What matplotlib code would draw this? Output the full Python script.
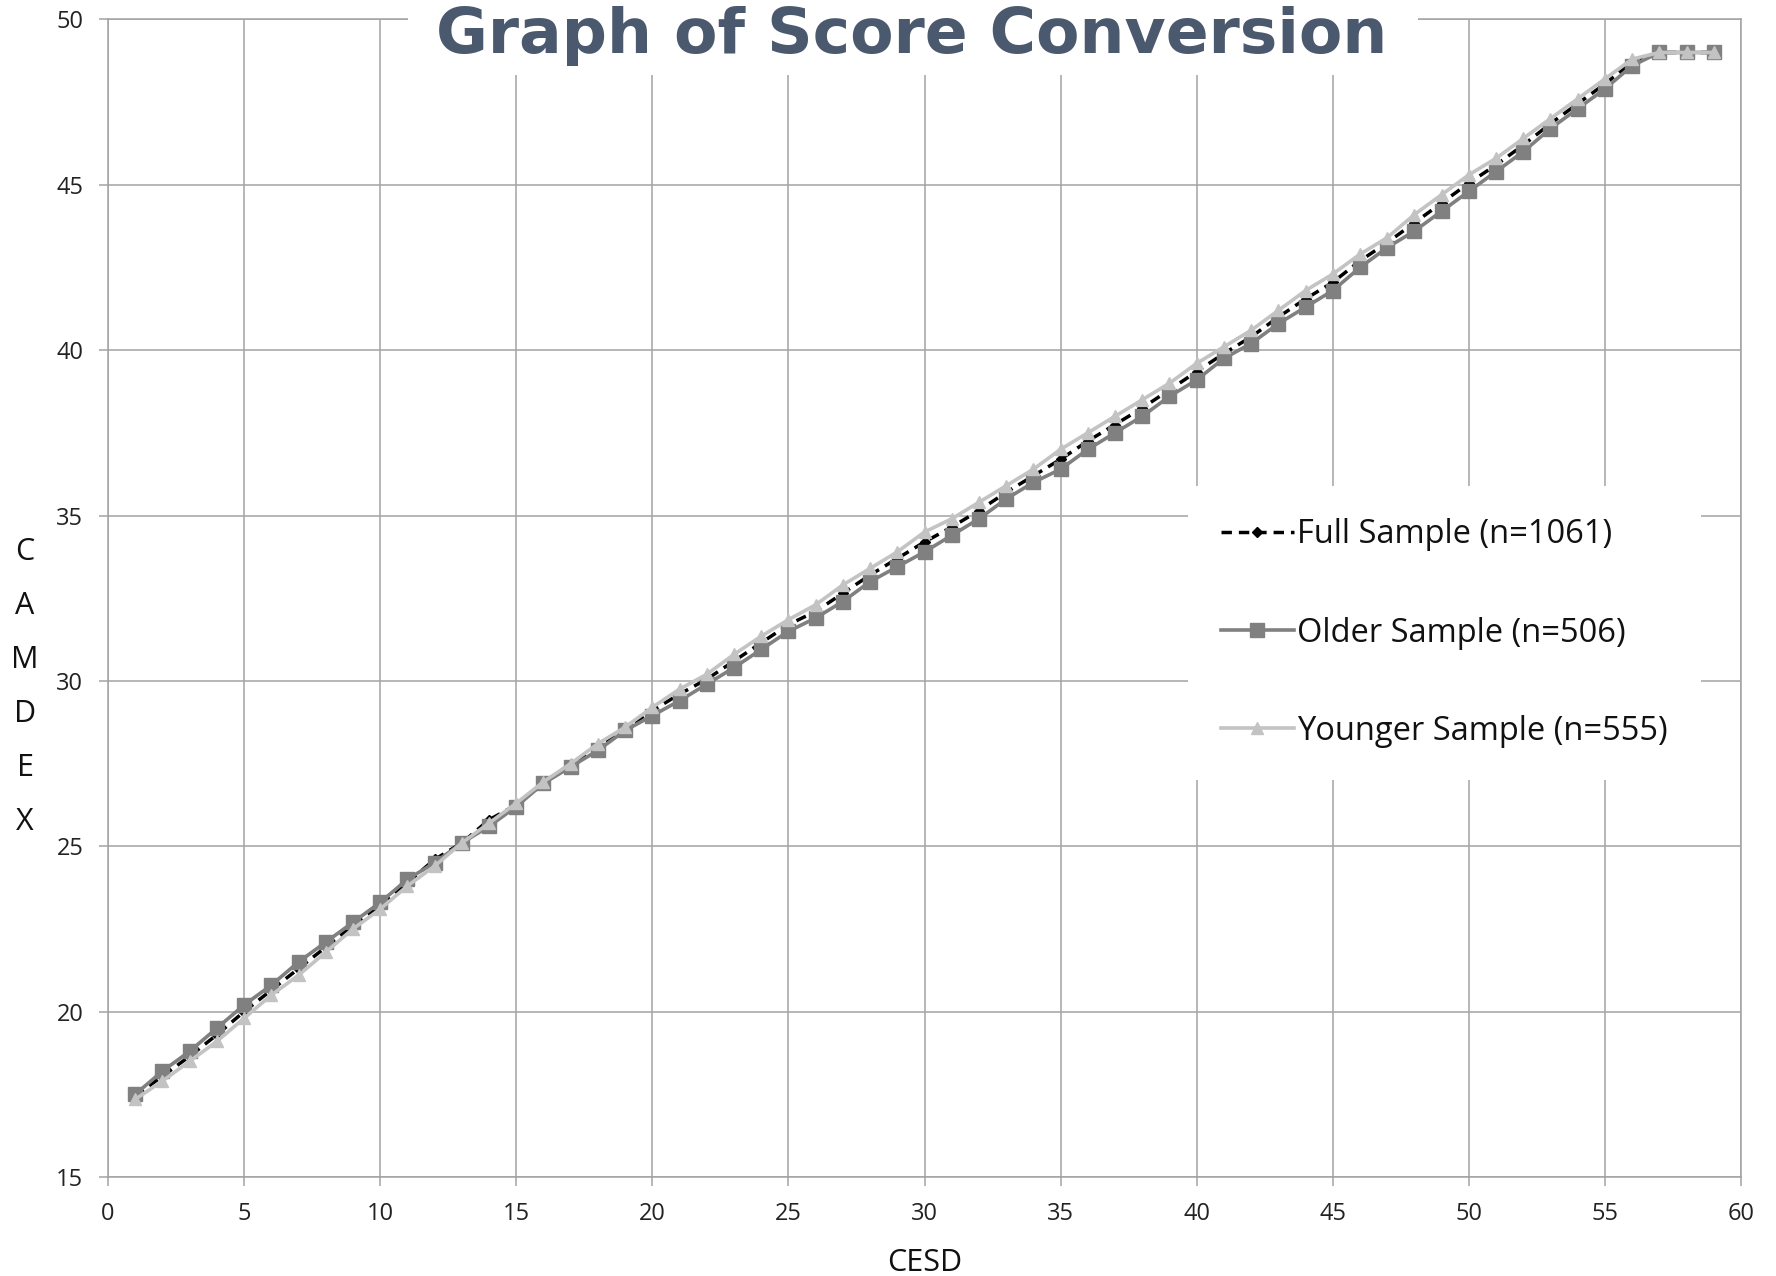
import matplotlib
matplotlib.use("Agg")
import matplotlib.pyplot as plt
from matplotlib.patches import Rectangle

# CESD score 1..59 and the CAMDEX values
cesd = list(range(1, 60))

full_sample = [17.45, 18.05, 18.65, 19.3, 20.0, 20.65, 21.3, 21.95, 22.6, 23.2,
               23.9, 24.6, 25.1, 25.8, 26.25, 26.9, 27.5, 28.0, 28.55, 29.1,
               29.6, 30.05, 30.6, 31.15, 31.7, 32.1, 32.65, 33.2, 33.7, 34.2,
               34.65, 35.15, 35.7, 36.2, 36.7, 37.25, 37.75, 38.25, 38.8, 39.35,
               39.9, 40.4, 41.0, 41.55, 42.05, 42.7, 43.25, 43.85, 44.45, 45.05,
               45.6, 46.2, 46.85, 47.45, 48.05, 48.7, 49.0, 49.0, 49.0]

older_sample = [17.5, 18.2, 18.8, 19.5, 20.2, 20.8, 21.5, 22.1, 22.7, 23.3,
                24.0, 24.5, 25.1, 25.6, 26.2, 26.9, 27.4, 27.9, 28.5, 28.95,
                29.4, 29.9, 30.4, 30.95, 31.5, 31.9, 32.4, 33.0, 33.45, 33.9,
                34.4, 34.9, 35.5, 36.0, 36.4, 37.0, 37.5, 38.0, 38.6, 39.1,
                39.75, 40.2, 40.8, 41.3, 41.8, 42.5, 43.1, 43.6, 44.2, 44.8,
                45.4, 46.0, 46.7, 47.3, 47.9, 48.6, 49.0, 49.0, 49.0]

younger_sample = [17.35, 17.9, 18.5, 19.1, 19.8, 20.5, 21.1, 21.8, 22.5, 23.1,
                  23.8, 24.4, 25.1, 25.7, 26.3, 26.95, 27.5, 28.1, 28.6, 29.2,
                  29.75, 30.2, 30.8, 31.35, 31.85, 32.3, 32.9, 33.4, 33.9, 34.5,
                  34.9, 35.4, 35.9, 36.4, 37.0, 37.5, 38.0, 38.5, 39.0, 39.6,
                  40.1, 40.6, 41.2, 41.8, 42.3, 42.9, 43.4, 44.1, 44.7, 45.3,
                  45.8, 46.4, 47.0, 47.6, 48.2, 48.8, 49.0, 49.0, 49.0]

series_labels = ["Full Sample (n=1061)", "Older Sample (n=506)", "Younger Sample (n=555)"]
x_ticks = list(range(0, 61, 5))
y_ticks = list(range(15, 51, 5))

plt.rcParams['font.family'] = ['Open Sans', 'DejaVu Sans']
grid_gray = '#a3a3a3'

fig = plt.figure(figsize=(17.76, 12.76), dpi=100)
ax = fig.add_axes([108 / 1776, 1 - 1177 / 1276, (1741 - 108) / 1776, (1177 - 19.4) / 1276])

ax.plot(cesd, full_sample, color='black', linestyle=(0, (3, 2)), linewidth=2.5,
        marker='D', markersize=5.5, label=series_labels[0], zorder=3)
ax.plot(cesd, older_sample, color='#808080', linewidth=2.6,
        marker='s', markersize=9.5, label=series_labels[1], zorder=3)
ax.plot(cesd, younger_sample, color='#c3c3c3', linewidth=2.6,
        marker='^', markersize=9, label=series_labels[2], zorder=3)

ax.set_xlim(0, 60)
ax.set_ylim(15, 50)
ax.set_xticks(x_ticks)
ax.set_yticks(y_ticks)
ax.grid(True, color=grid_gray, linewidth=1.1)
ax.set_axisbelow(True)
for side in ax.spines.values():
    side.set_color(grid_gray)
    side.set_linewidth(1.1)
ax.tick_params(axis='both', direction='out', length=6.8, width=1.1, color=grid_gray,
               labelsize=17, labelcolor='#222222', pad=11)

leg = ax.legend(loc='center left', bbox_to_anchor=(1188 / 1776, 1 - 633 / 1276),
                bbox_transform=fig.transFigure, borderaxespad=0, borderpad=1.0,
                fontsize=23.5, frameon=True, facecolor='white', edgecolor='none',
                framealpha=1, fancybox=False, handlelength=2.25, handletextpad=0.1,
                labelspacing=2.0)
for t in leg.get_texts():
    t.set_color('#111111')

fig.text((108 + 1741) / 2 / 1776, 1 - 1263 / 1276, "CESD", fontsize=22,
         ha='center', va='center', color='#111111')
for i, letter in enumerate("CAMDEX"):
    fig.text(25 / 1776, 1 - (552 + i * 54) / 1276, letter, fontsize=22,
             ha='center', va='center', color='#111111')

# white strip behind the title, hiding the grid
fig.patches.append(Rectangle((408 / 1776, 1 - 75 / 1276), 1010 / 1776, 75 / 1276,
                             transform=fig.transFigure, facecolor='white',
                             edgecolor='none', zorder=2))
fig.text(912 / 1776, 1 - 53 / 1276, "Graph of Score Conversion",
         fontsize=45.5, fontweight='bold', family='DejaVu Sans', color='#4b596e',
         ha='center', va='baseline', zorder=4)

fig.savefig('out.png', dpi=100, facecolor='white')
